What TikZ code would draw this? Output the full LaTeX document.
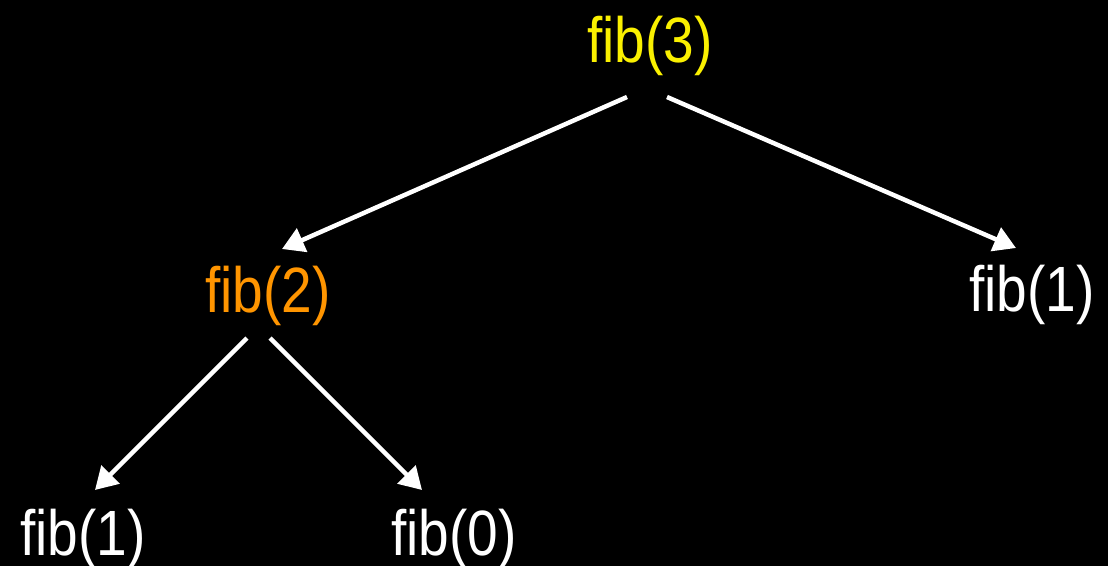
\documentclass[tikz,border=0pt]{standalone}
\usepackage{fontspec}
\newfontfamily\labfont[FakeStretch=0.86]{Liberation Sans}
\usetikzlibrary{arrows.meta,calc}
\definecolor{fibyellow}{RGB}{250,240,0}
\definecolor{fiborange}{RGB}{255,149,0}
\tikzset{
  lab/.style={anchor=base,inner sep=0pt,text=white,font=\labfont\fontsize{64}{70}\selectfont},
  conn/.style={draw=white,line width=4.5pt,-{Triangle[length=22pt,width=25pt]}}
}
\begin{document}
\begin{tikzpicture}[x=1pt,y=-1pt]
\fill[black] (0,0) rectangle (1108,566);
\useasboundingbox (0,0) rectangle (1108,566);
\node[lab,text=fibyellow] (f3) at (650,62) {fib(3)};
\node[lab,text=fiborange] (f2) at (268,312) {fib(2)};
\node[lab] (f1r) at (1032,311) {fib(1)};
\node[lab] (f1l) at (83,555) {fib(1)};
\node[lab] (f0) at (454,555) {fib(0)};
\draw[conn] ($(f3.base)+(-23,35)$) -- ($(f2.base)+(14,-63)$);
\draw[conn] ($(f3.base)+(17,35)$) -- ($(f1r.base)+(-16,-63)$);
\draw[conn] ($(f2.base)+(-21,26)$) -- ($(f1l.base)+(12,-65)$);
\draw[conn] ($(f2.base)+(2,26)$) -- ($(f0.base)+(-32,-65)$);
\end{tikzpicture}
\end{document}
